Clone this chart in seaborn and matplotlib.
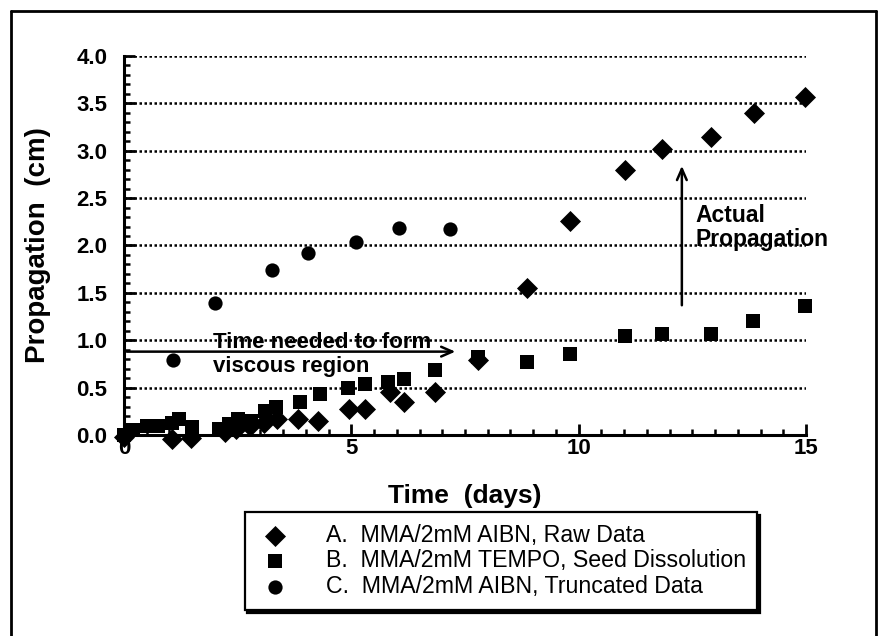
import numpy as np
import pandas as pd
import matplotlib
matplotlib.use("Agg")
import matplotlib.pyplot as plt
from matplotlib.ticker import MultipleLocator, FormatStrFormatter
from matplotlib.lines import Line2D
import seaborn as sns

# データ
a_days = [0, 1.05, 1.48, 2.22, 2.47, 2.78, 3.09, 3.37, 3.82, 4.27, 4.95, 5.30,
          5.84, 6.16, 6.84, 7.79, 8.86, 9.81, 11.02, 11.83, 12.92, 13.86, 14.98]
a_prop = [-0.02, -0.04, -0.03, 0.03, 0.06, 0.10, 0.13, 0.17, 0.17, 0.15, 0.27, 0.27,
          0.45, 0.35, 0.45, 0.79, 1.55, 2.26, 2.80, 3.02, 3.14, 3.40, 3.57]

b_days = [0, 0.2, 0.5, 0.75, 1.05, 1.2, 1.5, 2.1, 2.3, 2.5, 2.8, 3.1, 3.35, 3.86,
          4.30, 4.93, 5.30, 5.81, 6.16, 6.84, 7.78, 8.86, 9.81, 11.02, 11.83, 12.92,
          13.84, 14.98]
b_prop = [0, 0.05, 0.09, 0.09, 0.13, 0.17, 0.08, 0.06, 0.12, 0.17, 0.15, 0.25, 0.30,
          0.35, 0.43, 0.50, 0.54, 0.56, 0.59, 0.69, 0.82, 0.77, 0.85, 1.04, 1.07, 1.07,
          1.20, 1.36]

c_days = [0, 1.07, 2.01, 3.25, 4.04, 5.11, 6.05, 7.17, 7.79]
c_prop = [0, 0.79, 1.39, 1.74, 1.92, 2.04, 2.18, 2.17, 0.80]

labels = ["A.  MMA/2mM AIBN, Raw Data",
          "B.  MMA/2mM TEMPO, Seed Dissolution",
          "C.  MMA/2mM AIBN, Truncated Data"]

sns.set_style("ticks")
plt.rcParams["font.family"] = ["Liberation Sans", "DejaVu Sans"]
plt.rcParams.update({"text.color": "black", "axes.labelcolor": "black",
                     "xtick.color": "black", "ytick.color": "black"})

fig = plt.figure(figsize=(8.82, 6.36), dpi=100)
ax = fig.add_axes([0.1406, 0.316, 0.7732, 0.596])

df_a = pd.DataFrame({"days": a_days, "prop": a_prop})
df_b = pd.DataFrame({"days": b_days, "prop": b_prop})
df_c = pd.DataFrame({"days": c_days, "prop": c_prop})

# 散布図
sns.scatterplot(data=df_a, x="days", y="prop", marker="D", s=115, color="black",
                linewidth=0, label=labels[0], ax=ax, clip_on=False, zorder=3)
sns.scatterplot(data=df_b, x="days", y="prop", marker="s", s=115, color="black",
                linewidth=0, label=labels[1], ax=ax, clip_on=False, zorder=3)
sns.scatterplot(data=df_c, x="days", y="prop", marker="o", s=105, color="black",
                linewidth=0, label=labels[2], ax=ax, clip_on=False, zorder=3)

ax.set_xlim(0, 15)
ax.set_ylim(0, 4.0)
ax.xaxis.set_major_locator(MultipleLocator(5))
ax.xaxis.set_minor_locator(MultipleLocator(0.5))
ax.yaxis.set_major_locator(MultipleLocator(0.5))
ax.yaxis.set_minor_locator(MultipleLocator(0.1))
ax.yaxis.set_major_formatter(FormatStrFormatter("%.1f"))

ax.tick_params(which="major", direction="in", length=8, width=2, labelsize=16)
ax.tick_params(which="minor", direction="in", length=4.5, width=1.8)
ax.tick_params(axis="y", which="major", pad=12)
ax.tick_params(axis="x", which="major", pad=2)
for lab in ax.get_xticklabels() + ax.get_yticklabels():
    lab.set_fontweight("bold")

for side in ["top", "right"]:
    ax.spines[side].set_visible(False)
for side in ["left", "bottom"]:
    ax.spines[side].set_linewidth(2.2)
    ax.spines[side].set_color("black")

ax.yaxis.grid(True, linestyle=(0, (1, 1)), color="black", linewidth=1.8)
ax.set_axisbelow(True)

ax.set_xlabel("Time  (days)", fontsize=19, fontweight="bold", labelpad=18)
ax.set_ylabel("Propagation  (cm)", fontsize=20, fontweight="bold", labelpad=18)

# 注釈
ax.annotate("", xy=(7.35, 0.88), xytext=(0, 0.88),
            arrowprops=dict(arrowstyle="->,head_length=0.8,head_width=0.35",
                            lw=1.8, color="black"))
ax.text(1.96, 0.85, "Time needed to form\nviscous region", fontsize=16,
        fontweight="bold", va="center", ha="left", linespacing=1.15)
ax.annotate("", xy=(12.27, 2.87), xytext=(12.27, 1.34),
            arrowprops=dict(arrowstyle="->,head_length=0.8,head_width=0.35",
                            lw=1.8, color="black"))
ax.text(12.56, 2.19, "Actual\nPropagation", fontsize=16.5, fontweight="bold",
        va="center", ha="left", linespacing=1.05)

# 凡例
handles, labs = ax.get_legend_handles_labels()
leg = ax.legend(handles, labs, loc="center", bbox_to_anchor=(0.568, 0.118),
                bbox_transform=fig.transFigure, fontsize=16.7, frameon=True,
                fancybox=False, shadow={"shade": 1.0, "alpha": 1},
                handletextpad=1.4, labelspacing=0.12, borderpad=0.5,
                handlelength=1.6, borderaxespad=0)
leg.get_frame().set_edgecolor("black")
leg.get_frame().set_linewidth(1.6)

# 外枠
fig.add_artist(Line2D([0.013, 0.013], [0, 0.982], color="black", lw=2,
                      transform=fig.transFigure))
fig.add_artist(Line2D([0.013, 0.993], [0.982, 0.982], color="black", lw=2,
                      transform=fig.transFigure))
fig.add_artist(Line2D([0.993, 0.993], [0, 0.982], color="black", lw=2,
                      transform=fig.transFigure))

fig.savefig("out.png", dpi=100)
